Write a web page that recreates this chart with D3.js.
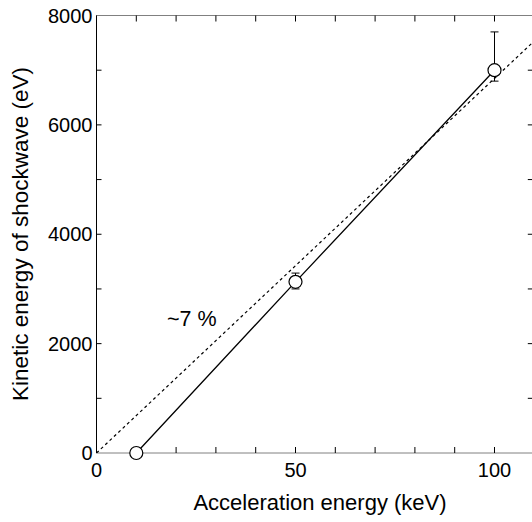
<!DOCTYPE html>
<html>
<head>
    <meta charset='utf-8'>
    <title>Shockwave energy</title>
    <style>
    body { margin: 0; background: #fff; }
    text { font-family: 'Liberation Sans', Arial, sans-serif; fill: #000; }
    </style>
    <script src='https://d3js.org/d3.v7.min.js'></script>
</head>
<body>
<div id="container"></div>
<script>
// ******* Data *******
const accel = [10, 50, 100];            // keV
const kinetic = [0, 3130, 7000];        // eV
const errUp = [0, 3290, 7700];
const errDown = [0, 3000, 6800];
const fitSlope = 68.5;                  // eV per keV (~7 %)
const xTickLabels = [0, 50, 100];
const yTickLabels = [0, 2000, 4000, 6000, 8000];

const width = 532, height = 522;

var x = d3.scaleLinear().domain([0, 110]).range([96.5, 534.3]);
var y = d3.scaleLinear().domain([0, 8000]).range([453, 15.5]);

var svg = d3.select("#container").append("svg")
    .attr("width", width)
    .attr("height", height)
    .style("display", "block");

// ******* Frame *******
const x0 = x(0), x1 = x(110), y0 = y(0), y1 = y(8000);
svg.append("line").attr("x1", x0).attr("x2", x1).attr("y1", y1).attr("y2", y1)
    .attr("stroke", "#000").attr("stroke-dasharray", "1,1");
svg.append("line").attr("x1", x0).attr("x2", x1).attr("y1", y0).attr("y2", y0)
    .attr("stroke", "#000").attr("stroke-dasharray", "1,1");
svg.append("line").attr("x1", x0).attr("x2", x0).attr("y1", y0).attr("y2", y1)
    .attr("stroke", "#000");
svg.append("line").attr("x1", x1 - 1.5).attr("x2", x1 - 1.5).attr("y1", y0).attr("y2", y1)
    .attr("stroke", "#000");

// ticks (inward)
const xt = d3.range(10, 110, 10);
const yt = d3.range(1000, 8000, 1000);
xt.forEach(function(v) {
    svg.append("line").attr("x1", x(v)).attr("x2", x(v)).attr("y1", y0).attr("y2", y0 - 6).attr("stroke", "#000");
    svg.append("line").attr("x1", x(v)).attr("x2", x(v)).attr("y1", y1).attr("y2", y1 + 6).attr("stroke", "#000");
});
yt.forEach(function(v) {
    svg.append("line").attr("x1", x0).attr("x2", x0 + 5).attr("y1", y(v)).attr("y2", y(v)).attr("stroke", "#000");
    svg.append("line").attr("x1", x1 - 1.5).attr("x2", x1 - 6.5).attr("y1", y(v)).attr("y2", y(v)).attr("stroke", "#000");
});

// tick labels
svg.selectAll(".xl").data(xTickLabels).enter().append("text")
    .attr("x", function(d) { return x(d); })
    .attr("y", y0 + 24)
    .attr("text-anchor", "middle")
    .attr("font-size", 20)
    .text(function(d) { return d; });
svg.selectAll(".yl").data(yTickLabels).enter().append("text")
    .attr("x", x0 - 4)
    .attr("y", function(d) { return y(d); })
    .attr("dy", "0.36em")
    .attr("text-anchor", "end")
    .attr("font-size", 20)
    .text(function(d) { return d; });

// axis titles
svg.append("text").attr("x", 320).attr("y", 510).attr("text-anchor", "middle")
    .attr("font-size", 22).text("Acceleration energy (keV)");
svg.append("text").attr("transform", "translate(28,234) rotate(-90)")
    .attr("text-anchor", "middle").attr("font-size", 22.5)
    .text("Kinetic energy of shockwave (eV)");

// ******* Fit line (dashed) *******
svg.append("defs").append("clipPath").attr("id", "clip").append("rect")
    .attr("x", x0).attr("y", y1).attr("width", x1 - x0).attr("height", y0 - y1);
svg.append("line")
    .attr("clip-path", "url(#clip)")
    .attr("x1", x(0)).attr("y1", y(0))
    .attr("x2", x(120)).attr("y2", y(120 * fitSlope))
    .attr("stroke", "#000").attr("stroke-width", 1.2)
    .attr("stroke-dasharray", "3,3");

svg.append("text").attr("x", 167).attr("y", 326).attr("font-size", 21.5).text("~7 %");

// ******* Data line, error bars, points *******
const pts = accel.map(function(d, i) {
    return {x: d, y: kinetic[i], hi: errUp[i], lo: errDown[i]};
});
svg.append("path").datum(pts)
    .attr("fill", "none").attr("stroke", "#000").attr("stroke-width", 1.3)
    .attr("d", d3.line().x(function(d) { return x(d.x); }).y(function(d) { return y(d.y); }));

const eb = pts.filter(function(d) { return d.hi > d.y; });
eb.forEach(function(d) {
    svg.append("line").attr("x1", x(d.x)).attr("x2", x(d.x)).attr("y1", y(d.hi)).attr("y2", y(d.lo)).attr("stroke", "#000");
    [d.hi, d.lo].forEach(function(v) {
        svg.append("line").attr("x1", x(d.x) - 4).attr("x2", x(d.x) + 4).attr("y1", y(v)).attr("y2", y(v)).attr("stroke", "#000");
    });
});

svg.selectAll("circle").data(pts).enter().append("circle")
    .attr("cx", function(d) { return x(d.x); })
    .attr("cy", function(d) { return y(d.y); })
    .attr("r", 6.5)
    .attr("fill", "#fff")
    .attr("stroke", "#000")
    .attr("stroke-width", 1.2);
</script>
</body>
</html>
